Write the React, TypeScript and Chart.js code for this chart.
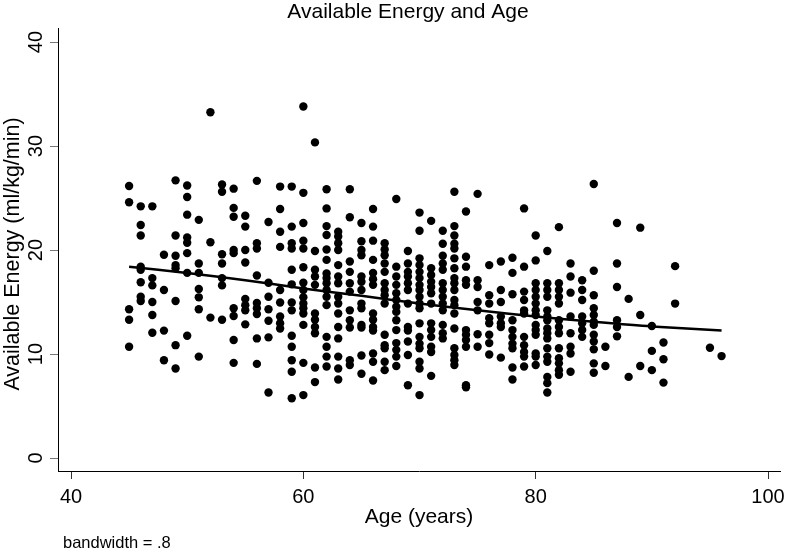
import React, { useEffect, useRef } from "react";
import { Chart, registerables } from "chart.js";

Chart.register(...registerables);

const chartTitle = "Available Energy and Age";
const xTitle = "Age (years)";
const yTitle = "Available Energy (ml/kg/min)";
const footnote = "bandwidth = .8";

const xTicks = [40, 60, 80, 100];
const yTicks = [0, 10, 20, 30, 40];

const ages = [45, 46, 47, 48, 49, 50, 51, 52, 53, 54, 55, 56, 57, 58, 59, 60, 61, 62, 63, 64, 65, 66, 67, 68, 69, 70, 71, 72, 73, 74, 75, 76, 77, 78, 79, 80, 81, 82, 83, 84, 85, 86, 87, 88, 89, 90, 91, 92, 95, 96];

const energyByAge = [
  [26.15, 24.6, 14.3, 13.3, 10.7],
  [24.2, 22.4, 21.4, 18.4, 18.1, 16.9, 15.5, 15.1],
  [24.2, 17.3, 16.6, 15.0, 13.75, 12.05],
  [19.55, 16.15, 12.25, 9.4],
  [26.7, 21.4, 19.45, 18.55, 18.25, 15.1, 10.85, 8.6],
  [26.2, 25.1, 23.4, 21.2, 20.7, 19.7, 17.8, 11.75],
  [22.9, 18.7, 17.8, 16.25, 15.45, 14.3, 9.75],
  [33.25, 20.75, 13.5],
  [26.3, 25.6, 19.6, 18.7, 17.3, 16.6, 13.3],
  [25.9, 24.05, 23.2, 20.0, 19.7, 14.4, 13.65, 11.35, 9.15],
  [23.3, 22.25, 20.0, 18.8, 15.3, 14.7, 14.2, 12.85],
  [26.65, 20.65, 20.15, 17.55, 14.9, 14.4, 13.85, 11.5, 9.05],
  [22.7, 16.85, 15.5, 14.3, 13.2, 11.6, 6.3],
  [26.1, 23.95, 21.75, 20.3, 16.15, 14.95, 13.6, 12.95, 12.45],
  [26.1, 22.25, 20.65, 20.15, 18.1, 16.7, 14.95, 14.2, 11.75, 10.7, 9.4, 8.3, 5.75],
  [33.8, 25.5, 22.6, 20.9, 20.15, 18.35, 16.85, 16.15, 15.45, 14.85, 14.4, 13.9, 12.8, 9.15, 6.05],
  [30.35, 19.9, 18.1, 17.45, 16.65, 13.9, 13.3, 12.6, 12.0, 8.7, 7.3],
  [25.85, 24.0, 22.3, 21.45, 20.05, 19.05, 17.75, 17.3, 16.8, 16.15, 15.5, 14.7, 11.65, 10.7, 9.75, 8.8],
  [21.75, 21.3, 20.65, 20.0, 18.55, 17.45, 16.8, 15.5, 14.85, 13.9, 12.6, 11.5, 9.75, 8.6, 7.55],
  [25.85, 23.15, 18.9, 17.9, 16.8, 16.0, 14.2, 13.25, 12.55, 9.4, 8.95],
  [22.6, 20.85, 20.0, 19.5, 17.45, 16.95, 16.15, 14.85, 14.4, 12.8, 12.55, 9.85, 8.1],
  [23.95, 22.25, 20.9, 19.05, 17.8, 17.2, 16.65, 13.9, 13.3, 12.6, 12.25, 10.05, 9.25, 7.45],
  [20.65, 20.05, 19.5, 18.7, 17.9, 16.8, 16.15, 15.65, 14.85, 11.85, 10.85, 10.55, 9.25, 8.45],
  [24.9, 18.4, 17.45, 16.65, 15.85, 15.2, 14.55, 14.05, 13.25, 12.3, 11.05, 10.4, 9.75, 8.85],
  [19.9, 18.7, 17.9, 17.45, 16.8, 16.15, 14.85, 12.6, 12.25, 11.2, 9.9, 7.0],
  [23.6, 21.85, 19.2, 18.55, 17.9, 17.3, 16.65, 16.15, 15.5, 14.85, 14.4, 12.95, 11.65, 11.0, 10.55, 9.25, 8.6, 6.05],
  [22.8, 18.25, 17.6, 16.95, 16.45, 15.85, 14.85, 12.95, 12.3, 11.65, 10.7, 10.2, 7.9],
  [21.85, 20.6, 19.45, 18.7, 18.1, 16.8, 16.15, 15.5, 14.85, 14.2, 12.8, 12.0, 11.5],
  [25.6, 22.3, 21.4, 20.6, 20.15, 19.2, 18.25, 17.3, 16.8, 16.15, 15.2, 14.7, 13.9, 12.45, 10.55, 9.9, 9.4, 8.95],
  [23.7, 19.35, 18.4, 17.1, 16.65, 12.3, 11.85, 11.35, 10.7, 7.0, 6.8],
  [25.4, 17.1, 16.45, 15.0, 14.2, 11.9, 10.7],
  [18.55, 15.65, 14.85, 13.45, 12.95, 11.85, 11.05, 9.95],
  [18.9, 16.15, 15.0, 13.6, 12.95, 12.6, 9.65],
  [19.25, 17.8, 15.75, 13.25, 12.3, 11.65, 11.0, 10.55, 8.7, 7.55],
  [24.0, 18.4, 16.0, 15.2, 14.2, 13.9, 11.65, 10.85, 10.2, 9.75, 8.8],
  [21.4, 19.0, 16.8, 16.15, 15.5, 14.85, 14.2, 13.75, 12.8, 12.3, 11.85, 10.05, 9.75, 8.95],
  [19.9, 16.8, 16.15, 15.5, 14.2, 13.6, 13.25, 12.45, 12.0, 11.5, 10.55, 9.75, 9.25, 7.8, 7.2, 6.3],
  [22.2, 16.8, 16.15, 15.5, 14.85, 13.25, 12.6, 12.0, 10.55, 9.6, 9.1, 8.45, 8.0],
  [18.7, 17.45, 15.9, 13.6, 12.0, 10.7, 10.05, 8.3],
  [17.1, 16.15, 15.2, 13.6, 12.95, 12.3, 11.65],
  [26.35, 18.0, 15.65, 14.4, 13.75, 13.1, 12.8, 11.85, 11.2, 10.45, 9.1, 8.2],
  [10.7, 8.85],
  [22.6, 18.7, 16.45, 13.25, 12.6, 11.7],
  [15.3, 7.8],
  [22.15, 13.75, 8.85],
  [12.7, 10.3, 8.45],
  [11.1, 9.5, 7.25],
  [18.45, 14.85],
  [10.6],
  [9.8],
];

const lowessAges = [45, 50, 55, 60, 65, 70, 75, 80, 85, 90, 96];
const lowessValues = [18.4, 17.8, 17.1, 16.3, 15.6, 14.85, 14.2, 13.6, 13.1, 12.65, 12.25];

const FONT = '"Liberation Sans", Arial, Helvetica, sans-serif';

const textPlugin = {
  id: "stataText",
  afterDraw(chart: any) {
    const ctx = chart.ctx;
    const xs = chart.scales.x;
    const ys = chart.scales.y;
    const area = chart.chartArea;
    ctx.save();
    ctx.fillStyle = "#000";

    // title
    ctx.font = `21px ${FONT}`;
    ctx.textAlign = "center";
    ctx.textBaseline = "alphabetic";
    ctx.fillText(chartTitle, 408, 18);

    // x tick labels
    ctx.font = `20px ${FONT}`;
    for (const v of xTicks) {
      ctx.fillText(String(v), xs.getPixelForValue(v), 503);
    }

    // x title
    ctx.font = `21px ${FONT}`;
    ctx.fillText(xTitle, (area.left + area.right) / 2, 523);

    // y tick labels (rotated)
    ctx.font = `20px ${FONT}`;
    for (const v of yTicks) {
      ctx.save();
      ctx.translate(42, ys.getPixelForValue(v));
      ctx.rotate(-Math.PI / 2);
      ctx.textAlign = "center";
      ctx.fillText(String(v), 0, 0);
      ctx.restore();
    }

    // y title
    ctx.save();
    ctx.font = `21.5px ${FONT}`;
    ctx.translate(18.5, 254);
    ctx.rotate(-Math.PI / 2);
    ctx.textAlign = "center";
    ctx.fillText(yTitle, 0, 0);
    ctx.restore();

    // footnote
    ctx.font = `16.5px ${FONT}`;
    ctx.textAlign = "left";
    ctx.fillText(footnote, 63, 548);

    ctx.restore();
  },
};

export default function App() {
  const ref = useRef<HTMLCanvasElement | null>(null);

  useEffect(() => {
    if (!ref.current) return;
    const points: { x: number; y: number }[] = [];
    ages.forEach((a, i) => {
      energyByAge[i].forEach((v) => points.push({ x: a, y: v }));
    });
    const linePts = lowessAges.map((a, i) => ({ x: a, y: lowessValues[i] }));

    const chart = new Chart(ref.current, {
      type: "scatter",
      data: {
        datasets: [
          {
            type: "line",
            data: linePts,
            borderColor: "#000",
            borderWidth: 2.5,
            pointRadius: 0,
            fill: false,
            tension: 0.3,
            order: 0,
          } as any,
          {
            type: "scatter",
            data: points,
            backgroundColor: "#000",
            borderWidth: 0,
            pointRadius: 4.2,
            pointHoverRadius: 4.2,
            order: 1,
          },
        ],
      },
      options: {
        animation: false,
        responsive: false,
        events: [],
        layout: { padding: { left: 0, right: 8, top: 28, bottom: 0 } },
        plugins: {
          legend: { display: false },
          tooltip: { enabled: false },
          title: { display: false },
        },
        scales: {
          x: {
            type: "linear",
            min: 38.88,
            max: 101.03,
            afterBuildTicks: (s: any) => {
              s.ticks = xTicks.map((v) => ({ value: v }));
            },
            afterFit: (s: any) => {
              s.height = 80;
            },
            ticks: { display: false },
            grid: { display: true, drawOnChartArea: false, drawTicks: true, tickLength: 8, color: "#333", lineWidth: 1 },
            border: { display: true, color: "#000", width: 1 },
          },
          y: {
            type: "linear",
            min: -1.25,
            max: 41.35,
            afterBuildTicks: (s: any) => {
              s.ticks = yTicks.map((v) => ({ value: v }));
            },
            afterFit: (s: any) => {
              s.width = 58;
            },
            ticks: { display: false },
            grid: { display: true, drawOnChartArea: false, drawTicks: true, tickLength: 8, color: "#777", lineWidth: 1 },
            border: { display: true, color: "#000", width: 1 },
          },
        },
      },
      plugins: [textPlugin],
    });
    return () => chart.destroy();
  }, []);

  return (
    <div style={{ position: "fixed", left: 0, top: 0, width: 788, height: 551, background: "#fff" }}>
      <canvas ref={ref} width={788} height={551} style={{ width: 788, height: 551, display: "block" }} />
    </div>
  );
}
